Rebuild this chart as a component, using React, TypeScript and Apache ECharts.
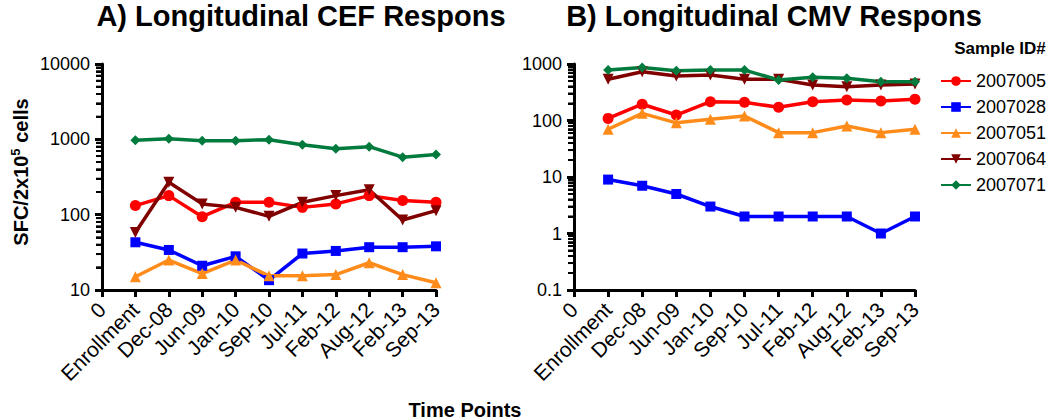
import React, { useEffect, useRef } from "react";
import * as echarts from "echarts";

const timeLabels = ["0", "Enrollment", "Dec-08", "Jun-09", "Jan-10", "Sep-10", "Jul-11", "Feb-12", "Aug-12", "Feb-13", "Sep-13"];
const sampleIds = ["2007005", "2007028", "2007051", "2007064", "2007071"];

const cef2007005 = [132, 179, 94, 146, 146, 125, 139, 179, 154, 146];
const cef2007028 = [43, 34, 21, 28, 13.5, 30.5, 33, 37, 37, 38];
const cef2007051 = [15, 25, 16.5, 25, 15.4, 15.4, 16, 23, 16, 12.5];
const cef2007064 = [58, 270, 139, 125, 95, 146, 179, 214, 85, 113];
const cef2007071 = [970, 1020, 960, 960, 990, 850, 750, 800, 580, 630];

const cmv2007005 = [109, 194, 125, 215, 210, 171, 215, 231, 222, 237];
const cmv2007028 = [9, 7, 5, 3, 2, 2, 2, 2, 1, 2];
const cmv2007051 = [70, 134, 91, 105, 120, 61, 61, 80, 61, 70];
const cmv2007064 = [537, 731, 614, 638, 537, 537, 425, 396, 425, 443];
const cmv2007071 = [780, 870, 760, 783, 780, 521, 582, 558, 486, 486];

const cefTicks = [10, 100, 1000, 10000];
const cmvTicks = [0.1, 1, 10, 100, 1000];
const minorMultipliers = [2, 3, 4, 5, 6, 7, 8, 9];

const colors = ["#ff0000", "#0000ff", "#ff8c1a", "#800000", "#007a3d"];
const symbols = ["circle", "rect", "triangle", "path://M0,0 L10,0 L5,9 Z", "diamond"];
const symbolSizes = [11, 10, 11, 11, 10];

const FONT = "'Liberation Sans', Arial, Helvetica, sans-serif";

function minorValues(decades: number[]) {
  const out: number[] = [];
  decades.slice(0, -1).forEach((d) => minorMultipliers.forEach((m) => out.push(d * m)));
  return out;
}

export default function App() {
  const ref = useRef<HTMLDivElement>(null);
  useEffect(() => {
    if (!ref.current) return;
    const chart = echarts.init(ref.current, undefined, { renderer: "svg" });
    const cef = [cef2007005, cef2007028, cef2007051, cef2007064, cef2007071];
    const cmv = [cmv2007005, cmv2007028, cmv2007051, cmv2007064, cmv2007071];

    const makeSeries = (vals: number[][], idx: number) =>
      vals.map((arr, i) => ({
        type: "line",
        name: sampleIds[i],
        xAxisIndex: idx,
        yAxisIndex: idx,
        data: arr.map((v, j) => [j + 1, v]),
        symbol: symbols[i],
        symbolSize: symbolSizes[i],
        lineStyle: { width: 3.5, color: colors[i] },
        itemStyle: { color: colors[i] },
        z: 3,
      }));

    // minor log ticks drawn as tiny marks at x = 0 (on the y axis)
    const minorSeries = (ticks: number[], idx: number) => ({
      type: "scatter",
      name: sampleIds[0],
      xAxisIndex: idx,
      yAxisIndex: idx,
      silent: true,
      clip: false,
      z: 10,
      symbol: "rect",
      symbolSize: [6, 2],
      symbolOffset: [-3, 0],
      itemStyle: { color: "#000", opacity: 1 },
      data: minorValues(ticks).map((v) => [0, v]),
    });

    const xAxis = (idx: number) => ({
      type: "value",
      gridIndex: idx,
      min: 0,
      max: 10,
      interval: 1,
      splitLine: { show: false },
      axisLine: { onZero: false, lineStyle: { color: "#000", width: 3 } },
      axisTick: { length: 7, lineStyle: { color: "#000", width: 3 } },
      axisLabel: {
        rotate: 45,
        fontSize: 21,
        fontFamily: FONT,
        color: "#000",
        margin: 16,
        formatter: (v: number) => timeLabels[v] ?? "",
      },
    });

    const yAxis = (idx: number, ticks: number[]) => ({
      type: "log",
      gridIndex: idx,
      logBase: 10,
      min: ticks[0],
      max: ticks[ticks.length - 1],
      splitLine: { show: false },
      axisLine: { onZero: false, lineStyle: { color: "#000", width: 3 } },
      axisTick: { length: 7, lineStyle: { color: "#000", width: 3 } },
      axisLabel: {
        fontSize: 18,
        fontFamily: FONT,
        color: "#000",
        margin: 12,
        formatter: (v: number) => {
          const t = ticks.find((x) => Math.abs(x - v) / x < 1e-6);
          return t !== undefined ? String(t) : "";
        },
      },
    });

    const minorAxis = (idx: number, ticks: number[]) => ({
      type: "log",
      gridIndex: idx,
      logBase: 10,
      position: "left",
      offset: 0,
      min: ticks[0],
      max: ticks[ticks.length - 1],
      splitLine: { show: false },
      axisLine: { show: false, onZero: false },
      axisLabel: { show: false },
      axisTick: {
        show: true,
        length: 6,
        customValues: minorValues(ticks),
        lineStyle: { color: "#000", width: 2 },
      },
    });

    chart.setOption({
      animation: false,
      textStyle: { fontFamily: FONT },
      grid: [
        { left: 102, top: 64, width: 334, height: 226 },
        { left: 574, top: 64, width: 341, height: 226 },
      ],
      xAxis: [xAxis(0), xAxis(1)],
      yAxis: [yAxis(0, cefTicks), yAxis(1, cmvTicks), minorAxis(0, cefTicks), minorAxis(1, cmvTicks)],
      legend: {
        data: sampleIds,
        orient: "vertical",
        left: 935,
        top: 67,
        itemWidth: 30,
        itemHeight: 12,
        itemGap: 8,
        textStyle: { fontSize: 18, fontFamily: FONT, color: "#000" },
      },
      graphic: [
        {
          type: "text",
          x: 301,
          y: 16,
          style: { text: "A) Longitudinal CEF Respons", font: `bold 29px ${FONT}`, fill: "#000", align: "center", verticalAlign: "middle" },
        },
        {
          type: "text",
          x: 774,
          y: 16,
          style: { text: "B) Longitudinal CMV Respons", font: `bold 29px ${FONT}`, fill: "#000", align: "center", verticalAlign: "middle" },
        },
        {
          type: "text",
          x: 1000,
          y: 48,
          style: { text: "Sample ID#", font: `bold 17px ${FONT}`, fill: "#000", align: "center", verticalAlign: "middle" },
        },
        {
          type: "text",
          x: 465,
          y: 410,
          style: { text: "Time Points", font: `bold 20px ${FONT}`, fill: "#000", align: "center", verticalAlign: "middle" },
        },
        {
          type: "text",
          x: 20,
          y: 172,
          rotation: Math.PI / 2,
          style: {
            text: "{a|SFC/2x10}{s|5}{a| cells}",
            align: "center",
            verticalAlign: "middle",
            rich: {
              a: { font: `bold 20px ${FONT}`, fill: "#000", lineHeight: 22, verticalAlign: "bottom" },
              s: { font: `bold 13px ${FONT}`, fill: "#000", lineHeight: 22, verticalAlign: "top" },
            },
          },
        },
      ],
      series: [...makeSeries(cef, 0), ...makeSeries(cmv, 1), minorSeries(cefTicks, 0), minorSeries(cmvTicks, 1)],
    });
    return () => chart.dispose();
  }, []);
  return <div ref={ref} style={{ position: "absolute", left: 0, top: 0, width: 1050, height: 420 }} />;
}
